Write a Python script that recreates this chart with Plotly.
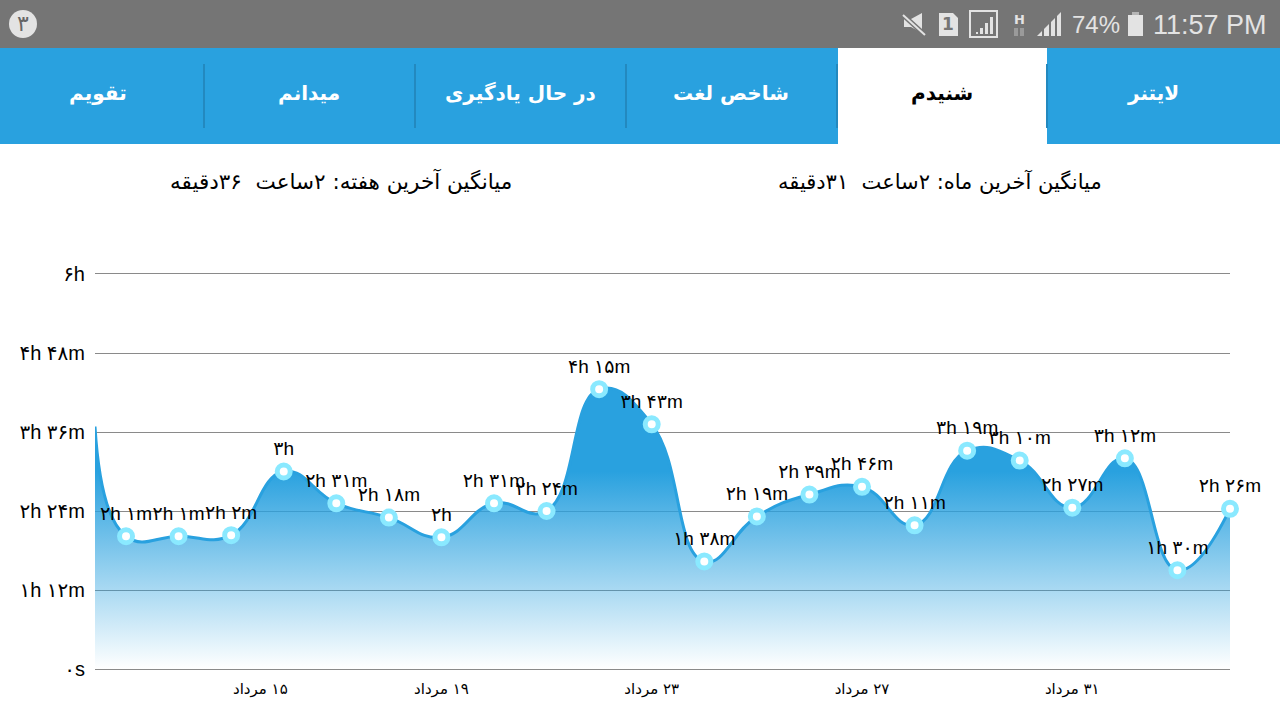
import plotly.graph_objects as go

# day of mordad, the first entry is where the curve enters at the left edge of the chart
days = [12.41, 13, 14, 15, 16, 17, 18, 19, 20, 21, 22, 23, 24, 25, 26, 27, 28, 29, 30, 31, 32, 33, 34]
minutes = [221, 121, 121, 122, 180, 151, 138, 120, 151, 144, 255, 223, 98, 139, 159, 166, 131, 199, 190, 147, 192, 90, 146]
point_labels = ['', '۲h ۱m', '۲h ۱m', '۲h ۲m', '۳h', '۲h ۳۱m', '۲h ۱۸m', '۲h', '۲h ۳۱m', '۲h ۲۴m', '۴h ۱۵m',
                '۳h ۴۳m', '۱h ۳۸m', '۲h ۱۹m', '۲h ۳۹m', '۲h ۴۶m', '۲h ۱۱m', '۳h ۱۹m', '۳h ۱۰m', '۲h ۲۷m',
                '۳h ۱۲m', '۱h ۳۰m', '۲h ۲۶m']
y_ticks = [0, 72, 144, 216, 288, 360]
y_tick_labels = ['۰s', '۱h ۱۲m', '۲h ۲۴m', '۳h ۳۶m', '۴h ۴۸m', '۶h']
x_ticks = [19, 23, 27, 31]
x_tick_labels = ['\u202b۱۹ مرداد\u202c', '\u202b۲۳ مرداد\u202c', '\u202b۲۷ مرداد\u202c', '\u202b۳۱ مرداد\u202c']
tabs = ['تقویم', 'میدانم', 'در حال یادگیری', 'شاخص لغت', 'شنیدم', 'لایتنر']
tab_centers = [98, 309, 520, 731, 942, 1153]
tab_dividers = [204, 415, 626, 837, 1047]

FONT = 'DejaVu Sans'
LABEL_FONT = 'Liberation Sans, DejaVu Sans'
BLUE = '#29a1df'
W, H = 1280, 720


def px(x):
    return x / W


def py(y):
    return 1 - y / H


def rect(x0, y0, x1, y1, color):
    return dict(type='rect', xref='paper', yref='paper', x0=px(x0), y0=py(y0), x1=px(x1), y1=py(y1),
                fillcolor=color, line_width=0, layer='above')


def poly(points, color):
    path = 'M ' + ' L '.join(f'{px(a):.5f} {py(b):.5f}' for a, b in points) + ' Z'
    return dict(type='path', xref='paper', yref='paper', path=path, fillcolor=color, line_width=0, layer='above')


def text(x, y, s, size, color='black', family=FONT):
    return dict(xref='paper', yref='paper', x=px(x), y=py(y), text=s, showarrow=False, xanchor='center',
                yanchor='middle', font=dict(family=family, size=size, color=color))


fig = go.Figure()
# area and curve stay clipped to the plot, markers and their labels may hang over the right edge
fig.add_trace(go.Scatter(
    x=days, y=minutes, mode='lines',
    line=dict(color=BLUE, width=3, shape='spline', smoothing=1.3),
    fill='tozeroy', cliponaxis=True,
    fillgradient=dict(type='vertical', start=0, stop=180,
                      colorscale=[[0, 'rgba(41,161,223,0)'], [1, 'rgba(41,161,223,1)']]),
    hoverinfo='skip', showlegend=False))
fig.add_trace(go.Scatter(
    x=days[1:], y=minutes[1:], mode='markers',
    marker=dict(size=13, color='white', line=dict(color='#8ae9ff', width=5)),
    cliponaxis=False, hoverinfo='skip', showlegend=False))
# invisible bigger markers lift the labels a little higher off the points
fig.add_trace(go.Scatter(
    x=days[1:], y=minutes[1:], mode='markers+text', text=point_labels[1:], textposition='top center',
    textfont=dict(family=LABEL_FONT, size=19, color='black'),
    marker=dict(size=17, opacity=0),
    cliponaxis=False, hoverinfo='skip', showlegend=False))

icon = '#e3e3e3'
shapes = [
    rect(0, 0, W, 48, '#757575'),
    rect(0, 48, W, 144, BLUE),
    rect(838, 48, 1047, 144, 'white'),
    # status bar icons
    dict(type='circle', xref='paper', yref='paper', x0=px(9), y0=py(10), x1=px(37), y1=py(38),
         fillcolor=icon, line_width=0),
    poly([(904, 19), (911, 19), (922, 13), (922, 33), (911, 27), (904, 27)], icon),
    dict(type='line', xref='paper', yref='paper', x0=px(903), y0=py(15), x1=px(925), y1=py(35),
         line=dict(color='#757575', width=5)),
    dict(type='line', xref='paper', yref='paper', x0=px(903), y0=py(15), x1=px(925), y1=py(35),
         line=dict(color=icon, width=2)),
    poly([(939, 13), (953, 13), (958, 18), (958, 36), (939, 36)], icon),
    dict(type='rect', xref='paper', yref='paper', x0=px(970), y0=py(11), x1=px(997), y1=py(37),
         line=dict(color=icon, width=2)),
    rect(976, 32, 978, 34, icon), rect(980, 28, 983, 34, icon), rect(985, 23, 988, 34, icon), rect(990, 17, 993, 34, icon),
    poly([(1037, 36), (1042, 31), (1042, 36)], icon),
    poly([(1044, 36), (1044, 29), (1049, 24), (1049, 36)], icon),
    poly([(1051, 36), (1051, 22), (1055, 18), (1055, 36)], icon),
    poly([(1057, 36), (1057, 16), (1061, 12), (1061, 36)], icon),
    rect(1014, 28, 1018, 36, '#9a9a9a'), rect(1020, 28, 1024, 36, '#9a9a9a'),
    rect(1128, 15, 1143, 36, icon),
    rect(1132, 12, 1139, 15, '#b5b5b5'),
]
shapes += [dict(type='line', xref='paper', yref='paper', x0=px(d), x1=px(d), y0=py(64), y1=py(128),
                line=dict(color='#2389bf', width=2)) for d in tab_dividers]

annotations = [
    text(23, 24, '۳', 22, '#666666'),
    text(948, 24, '<b>1</b>', 17, '#757575'),
    text(1019, 19, '<b>H</b>', 13, icon),
    text(1096, 25, '74%', 24, icon, 'Liberation Sans'),
    text(1210, 25, '11:57 PM', 27, icon, 'Liberation Sans'),
    text(341, 181, 'میانگین آخرین هفته: ۲ساعت  ۳۶دقیقه', 21.5),
    text(940, 181, 'میانگین آخرین ماه: ۲ساعت  ۳۱دقیقه', 21),
    # the first date label is pushed right in the reference, clear of the axis start
    dict(xref='x', yref='paper', x=15, y=py(689), text='\u202b۱۵ مرداد\u202c', showarrow=False, xshift=29, yanchor='middle',
         font=dict(family=FONT, size=15, color='black')),
]
for name, c in zip(tabs, tab_centers):
    bold = name == 'شنیدم'
    annotations.append(text(c, 93, f'<b>{name}</b>', 20, 'black' if bold else 'white'))

fig.update_layout(
    width=W, height=H, margin=dict(l=0, r=0, t=0, b=0, autoexpand=False), autosize=False,
    paper_bgcolor='white', plot_bgcolor='white',
    font=dict(family=FONT), shapes=shapes, annotations=annotations,
    xaxis=dict(domain=[px(95), px(1230)], range=[12.41, 34.0], tickmode='array', tickvals=x_ticks,
               ticktext=x_tick_labels, showgrid=False, zeroline=False, showline=False,
               ticks='outside', ticklen=4, tickcolor='rgba(0,0,0,0)',
               tickfont=dict(family=FONT, size=15, color='black')),
    # range runs two minutes past the ends, plotly drops gridlines sitting right on the plot edge
    yaxis=dict(domain=[py(671.2), py(271.8)], range=[-2, 362], tickmode='array', tickvals=y_ticks,
               ticktext=y_tick_labels, showgrid=True, gridcolor='#8a8a8a', gridwidth=1, zeroline=False,
               ticks='outside', ticklen=5, tickcolor='rgba(0,0,0,0)',
               tickfont=dict(family=LABEL_FONT, size=20, color='black')),
)

fig.write_html('out.html', post_script="document.body.style.margin='0';", config=dict(displayModeBar=False))
